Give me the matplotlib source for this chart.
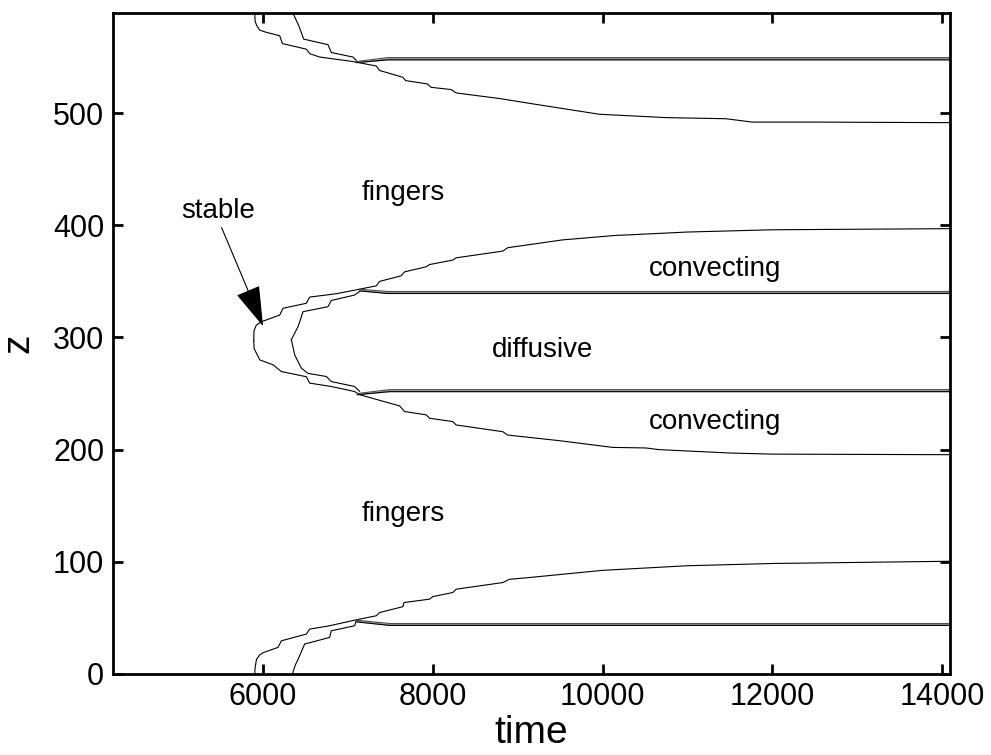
import matplotlib
matplotlib.use("Agg")
import matplotlib.pyplot as plt

plt.rcParams['font.family'] = ['Liberation Sans', 'DejaVu Sans']

# interfaces (time, z)
# top group
top_out_t = [5902, 5906, 5925, 5960, 6040, 6196, 6228, 6510, 6550, 6667, 7057, 7334, 7373,
             7645, 7680, 7937, 7980, 8216, 8275, 8785, 9200, 9960, 10746, 11452, 11765, 12500, 14094]
top_out_z = [589, 582, 578, 574, 572, 569, 562, 557, 553, 550, 546, 542, 538,
             532, 529, 526, 523, 521, 518, 513, 508, 499, 496, 495, 492, 492, 491.5]
top_in_t = [6353, 6420, 6479, 6765, 6804, 7059, 7098]
top_in_z = [589, 578, 566, 561, 554, 550, 547]

# middle group, outer C shaped curve
mid_up_t = [5890, 5893, 5920, 5980, 6196, 6235, 6510, 6549, 6863, 7098, 7334, 7373, 7628,
            7667, 7922, 7961, 8235, 8275, 8824, 8882, 9529, 10157, 10314, 11000, 12000, 14094]
mid_up_z = [297, 306, 311, 314, 320, 326, 330.5, 336, 339, 342.5, 346, 350, 355,
            358.5, 363, 365, 369, 371, 377, 380, 387, 391, 391.5, 394, 396, 397]
mid_lo_t = [5890, 5895, 5961, 6118, 6216, 6510, 6549, 6804, 7078, 7137, 7353, 7608, 7667,
            7922, 7961, 8235, 8275, 8824, 8882, 9490, 10118, 10510, 10667, 11500, 12000, 14094]
mid_lo_z = [297, 290, 280, 275.6, 269.6, 265, 259.3, 256.3, 251.8, 249, 244.4, 239, 234,
            231, 228, 225, 222, 216, 213, 208, 202, 201.5, 200, 197, 196, 195.5]
# middle group, inner ">" curve
in_up_t = [6333, 6412, 6471, 6765, 6804, 7078, 7137]
in_up_z = [298, 309.6, 323, 327.4, 333, 337.8, 341]
in_lo_t = [6333, 6373, 6451, 6529, 6745, 6804, 7078, 7137]
in_lo_z = [298, 284.4, 272.6, 268, 265.2, 260.7, 256.3, 252]

# bottom group
bot_out_t = [5902, 5905, 5922, 5960, 6000, 6176, 6216, 6510, 6549, 6784, 7098, 7334, 7373,
             7647, 7660, 7961, 8000, 8235, 8275, 8824, 8902, 9138, 10000, 11000, 12000, 14094]
bot_out_z = [0, 5, 13, 17, 19, 23.7, 29.6, 35.6, 40, 43, 48.3, 51.9, 54.8,
             60, 63.7, 66.7, 69, 72.6, 75.6, 81.5, 84.4, 86, 92.4, 96.5, 98.5, 100.5]
bot_in_t = [6345, 6380, 6412, 6490, 6784, 6804, 7078, 7098]
bot_in_z = [0, 8, 13, 26.7, 32.6, 38.5, 43, 47.4]

# convecting/diffusive boundaries (double lines)
flat_top_t = [7098, 7471, 14094]
flat_top_z1 = [546, 549.5, 549.5]
flat_top_z2 = [545, 547.5, 547.5]
flat_mu_t = [7137, 7471, 14094]
flat_mu_z1 = [343, 341, 341]
flat_mu_z2 = [341.5, 339.2, 339.2]
flat_ml_t = [7110, 7490, 14094]
flat_ml_z1 = [250, 253.5, 253.5]
flat_ml_z2 = [249, 251.7, 251.7]
flat_bot_t = [7098, 7490, 14094]
flat_bot_z1 = [48, 45, 45]
flat_bot_z2 = [46.5, 43.3, 43.3]

fig = plt.figure(figsize=(9.91, 7.55), dpi=100)
ax = fig.add_axes([0.1137, 0.1073, 0.845, 0.8751])

lw = 0.8
for t, z in [(top_out_t, top_out_z), (top_in_t, top_in_z),
             (mid_up_t, mid_up_z), (mid_lo_t, mid_lo_z),
             (in_up_t, in_up_z), (in_lo_t, in_lo_z),
             (bot_out_t, bot_out_z), (bot_in_t, bot_in_z)]:
    ax.plot(t, z, 'k-', lw=lw)

for t, z1, z2 in [(flat_top_t, flat_top_z1, flat_top_z2),
                  (flat_mu_t, flat_mu_z1, flat_mu_z2),
                  (flat_ml_t, flat_ml_z1, flat_ml_z2),
                  (flat_bot_t, flat_bot_z1, flat_bot_z2)]:
    ax.fill_between(t, z1, z2, color='0.6', lw=0)
    ax.plot(t, z1, '-', color='0.3', lw=lw)
    ax.plot(t, z2, 'k-', lw=lw)

tfs = 20
ax.text(7647, 429, 'fingers', fontsize=tfs, ha='center', va='center')
ax.text(11325, 361, 'convecting', fontsize=tfs, ha='center', va='center')
ax.text(9294, 289, 'diffusive', fontsize=tfs, ha='center', va='center')
ax.text(11325, 225, 'convecting', fontsize=tfs, ha='center', va='center')
ax.text(7647, 143, 'fingers', fontsize=tfs, ha='center', va='center')
ax.text(5472, 413, 'stable', fontsize=tfs, ha='center', va='center')
ax.annotate('', xy=(6000, 310), xytext=(5511, 398),
            arrowprops=dict(arrowstyle='-|>,head_length=1.3,head_width=0.4',
                            mutation_scale=20, color='k', lw=0.8,
                            shrinkA=0, shrinkB=0))

ax.set_xlim(4228, 14094)
ax.set_ylim(0, 589)
ax.set_xticks([6000, 8000, 10000, 12000, 14000])
ax.set_yticks([0, 100, 200, 300, 400, 500])
ax.tick_params(direction='in', length=7, width=2, labelsize=22,
               top=True, right=True, pad=6)
for s in ax.spines.values():
    s.set_linewidth(2)
ax.set_xlabel('time', fontsize=28, labelpad=2)
ax.set_ylabel('z', fontsize=28, rotation=90, labelpad=12)

fig.savefig('out.png', dpi=100)
